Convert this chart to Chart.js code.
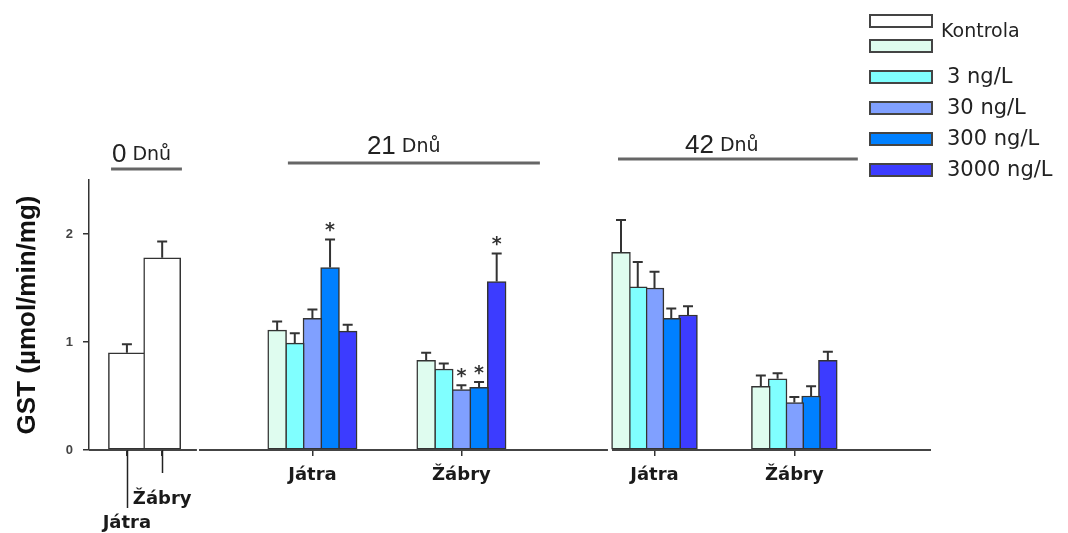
<!DOCTYPE html>
<html lang="cs">
<head>
<meta charset="utf-8">
<title>GST</title>
<script src="https://cdn.jsdelivr.net/npm/chart.js@4/dist/chart.umd.min.js"></script>
<style>
  html, body { margin: 0; padding: 0; background: #fff; }
</style>
</head>
<body>
<canvas id="graf" width="1068" height="533"></canvas>
<script>
// --- DATA ---
const tkane = ['Játra', 'Žábry'];
const dny = ['0', '21', '42'];
const skupiny = ['Kontrola', 'Kontrola', '3 ng/L', '30 ng/L', '300 ng/L', '3000 ng/L'];

// den 0 – jen kontrola [Játra, Žábry]
const kontrola0 = [0.90, 1.78];
const kontrola0Sem = [0.08, 0.15];

// dny 21 a 42 – pořadí [21 Játra, 21 Žábry, 42 Játra, 42 Žábry]
const kontrola = [1.11, 0.83, 1.83, 0.59];
const kontrolaSem = [0.08, 0.07, 0.30, 0.10];
const ng3 = [0.99, 0.75, 1.51, 0.66];
const ng3Sem = [0.09, 0.05, 0.23, 0.05];
const ng30 = [1.22, 0.56, 1.50, 0.44];
const ng30Sem = [0.08, 0.04, 0.15, 0.05];
const ng300 = [1.69, 0.58, 1.22, 0.50];
const ng300Sem = [0.26, 0.05, 0.09, 0.09];
const ng3000 = [1.10, 1.56, 1.25, 0.83];
const ng3000Sem = [0.06, 0.26, 0.08, 0.08];

// hvězdičky – statisticky významný rozdíl
const vyznam30 = [false, true, false, false];
const vyznam300 = [true, true, false, false];
const vyznam3000 = [false, true, false, false];

const yTicks = [0, 1, 2];

// --- ROZVRŽENÍ (jednotka osy x = šířka jednoho sloupce) ---
const X_MAX = 47.75;
const stredySkupin = [[2.15, 4.15], [12.67, 21.12], [32.07, 40.0]];
const krokSloupcu = [2, 1, 0.95];
const useckyOsy = [[0, 6.12], [6.24, 29.43], [29.66, X_MAX]];
const dlouheTicky = [58, 23]; // den 0: Játra, Žábry
const hlavicky = [
    { x1: 1.25, x2: 5.27, xText: 1.30, yText: 162, yCara: 169 },
    { x1: 11.28, x2: 25.57, xText: 15.76, yText: 154, yCara: 163 },
    { x1: 30.0, x2: 43.6, xText: 33.8, yText: 153, yCara: 159 }
];
const barvy = ['#ffffff', '#dffcef', '#80ffff', '#80a0ff', '#0080ff', '#3c3cff'];

function poziceSloupce(den, tkan, k) {
    return stredySkupin[den][tkan] + (k - 2) * krokSloupcu[den];
}

// --- DATASETY ---
const serie = [
    { hodnoty: kontrola, sem: kontrolaSem, vyznam: null },
    { hodnoty: ng3, sem: ng3Sem, vyznam: null },
    { hodnoty: ng30, sem: ng30Sem, vyznam: vyznam30 },
    { hodnoty: ng300, sem: ng300Sem, vyznam: vyznam300 },
    { hodnoty: ng3000, sem: ng3000Sem, vyznam: vyznam3000 }
];

const spolecne = { borderColor: '#333', borderWidth: 1.5, borderSkipped: false, grouped: false };

const datasets = [{
    ...spolecne,
    label: skupiny[0],
    data: kontrola0.map((v, t) => ({ x: stredySkupin[0][t], y: v })),
    sem: kontrola0Sem,
    vyznam: null,
    backgroundColor: barvy[0],
    barThickness: 37
}];

serie.forEach((s, k) => {
    datasets.push({
        ...spolecne,
        label: skupiny[k + 1],
        data: s.hodnoty.map((v, i) => ({ x: poziceSloupce(1 + Math.floor(i / 2), i % 2, k), y: v })),
        sem: s.sem,
        vyznam: s.vyznam,
        backgroundColor: barvy[k + 1],
        barThickness: 18.8
    });
});

const xTicky = stredySkupin.flat();
const xPopisky = [['', '', tkane[0]], ['', tkane[1]], tkane[0], tkane[1], tkane[0], tkane[1]];

// --- PLUGINY ---
const osaPlugin = {
    id: 'osaX',
    afterDatasetsDraw(chart) {
        const { ctx, scales: { x, y } } = chart;
        const y0 = y.getPixelForValue(0);
        ctx.save();
        ctx.strokeStyle = '#444';
        ctx.lineWidth = 2;
        useckyOsy.forEach(([a, b]) => {
            ctx.beginPath();
            ctx.moveTo(x.getPixelForValue(a), y0);
            ctx.lineTo(x.getPixelForValue(b), y0);
            ctx.stroke();
        });
        ctx.lineWidth = 1.5;
        ctx.strokeStyle = '#222';
        stredySkupin[0].forEach((v, t) => {
            const px = Math.round(x.getPixelForValue(v)) + 0.5;
            ctx.beginPath();
            ctx.moveTo(px, y0);
            ctx.lineTo(px, y0 + dlouheTicky[t]);
            ctx.stroke();
        });
        ctx.restore();
    }
};

const chybyPlugin = {
    id: 'chyby',
    afterDatasetsDraw(chart) {
        const { ctx, scales: { y } } = chart;
        ctx.save();
        ctx.strokeStyle = '#333';
        ctx.fillStyle = '#333';
        ctx.lineWidth = 2;
        ctx.font = 'bold 19px "DejaVu Sans"';
        ctx.textAlign = 'center';
        ctx.textBaseline = 'alphabetic';
        chart.data.datasets.forEach((ds, di) => {
            const meta = chart.getDatasetMeta(di);
            meta.data.forEach((el, i) => {
                const konec = y.getPixelForValue(ds.data[i].y + ds.sem[i]);
                ctx.beginPath();
                ctx.moveTo(el.x, el.y);
                ctx.lineTo(el.x, konec);
                ctx.moveTo(el.x - 5, konec);
                ctx.lineTo(el.x + 5, konec);
                ctx.stroke();
                if (ds.vyznam && ds.vyznam[i]) {
                    ctx.fillText('*', el.x, konec - 3);
                }
            });
        });
        ctx.restore();
    }
};

const hlavickyPlugin = {
    id: 'hlavicky',
    afterDraw(chart) {
        const { ctx, scales: { x } } = chart;
        ctx.save();
        hlavicky.forEach((h, d) => {
            ctx.strokeStyle = '#666';
            ctx.lineWidth = 3;
            ctx.beginPath();
            ctx.moveTo(x.getPixelForValue(h.x1), h.yCara);
            ctx.lineTo(x.getPixelForValue(h.x2), h.yCara);
            ctx.stroke();

            const px = x.getPixelForValue(h.xText);
            ctx.fillStyle = '#222';
            ctx.textBaseline = 'alphabetic';
            ctx.textAlign = 'left';
            ctx.font = '26px "Liberation Sans"';
            ctx.fillText(dny[d], px, h.yText);
            const w = ctx.measureText(dny[d]).width;
            ctx.font = '19px "DejaVu Sans"';
            ctx.fillText('Dnů', px + w + 6, h.yText - 2);
        });
        ctx.restore();
    }
};

// legenda vpravo nahoře – obě kontroly sdílí jeden popisek
const legendaPlugin = {
    id: 'legenda',
    afterDraw(chart) {
        const ctx = chart.ctx;
        const boxX = 870, boxW = 62, boxH = 12;
        const boxY = [15, 40, 71, 102, 133, 164];
        ctx.save();
        chart.data.datasets.forEach((ds, i) => {
            ctx.fillStyle = ds.backgroundColor;
            ctx.fillRect(boxX, boxY[i], boxW, boxH);
            ctx.strokeStyle = '#444';
            ctx.lineWidth = 2;
            ctx.strokeRect(boxX, boxY[i], boxW, boxH);
        });
        ctx.fillStyle = '#222';
        ctx.textBaseline = 'middle';
        ctx.textAlign = 'left';
        ctx.font = '19px "DejaVu Sans"';
        ctx.fillText(skupiny[0], 941, 32);
        ctx.font = '21px "DejaVu Sans"';
        for (let i = 2; i < skupiny.length; i++) {
            ctx.fillText(skupiny[i], 947, boxY[i] + boxH / 2 + 1);
        }
        ctx.restore();
    }
};

// --- GRAF ---
const ctx = document.getElementById('graf').getContext('2d');
new Chart(ctx, {
    type: 'bar',
    data: { datasets },
    options: {
        responsive: false,
        animation: false,
        layout: { padding: { top: 180, right: 137, bottom: 0, left: 0 } },
        plugins: {
            legend: { display: false },
            tooltip: { enabled: false }
        },
        scales: {
            x: {
                type: 'linear',
                min: 0,
                max: X_MAX,
                offset: false,
                border: { display: false },
                grid: { offset: false, drawOnChartArea: false, drawTicks: true, tickLength: 6, color: '#333', lineWidth: 1.5 },
                afterBuildTicks: (scale) => { scale.ticks = xTicky.map(v => ({ value: v })); },
                afterFit: (scale) => { scale.height = 83; },
                ticks: {
                    autoSkip: false,
                    maxRotation: 0,
                    minRotation: 0,
                    padding: 7,
                    color: '#1a1a1a',
                    font: { family: '"DejaVu Sans"', size: 18, weight: 'bold', lineHeight: 1.33 },
                    callback: (v, i) => xPopisky[i]
                }
            },
            y: {
                min: 0,
                max: 2.5,
                border: { display: true, color: '#333', width: 1.5 },
                grid: { drawOnChartArea: false, drawTicks: true, tickLength: 6, color: '#333', lineWidth: 1.5 },
                afterBuildTicks: (scale) => { scale.ticks = yTicks.map(v => ({ value: v })); },
                afterFit: (scale) => { scale.width = 89; },
                ticks: {
                    padding: 10,
                    color: '#444',
                    font: { family: '"Liberation Sans"', size: 13, weight: 'bold' }
                },
                title: {
                    display: true,
                    text: 'GST (µmol/min/mg)',
                    color: '#111',
                    padding: { top: 12, bottom: 0 },
                    font: { family: '"Liberation Sans"', size: 26, weight: 'bold' }
                }
            }
        }
    },
    plugins: [osaPlugin, chybyPlugin, hlavickyPlugin, legendaPlugin]
});
</script>
</body>
</html>
